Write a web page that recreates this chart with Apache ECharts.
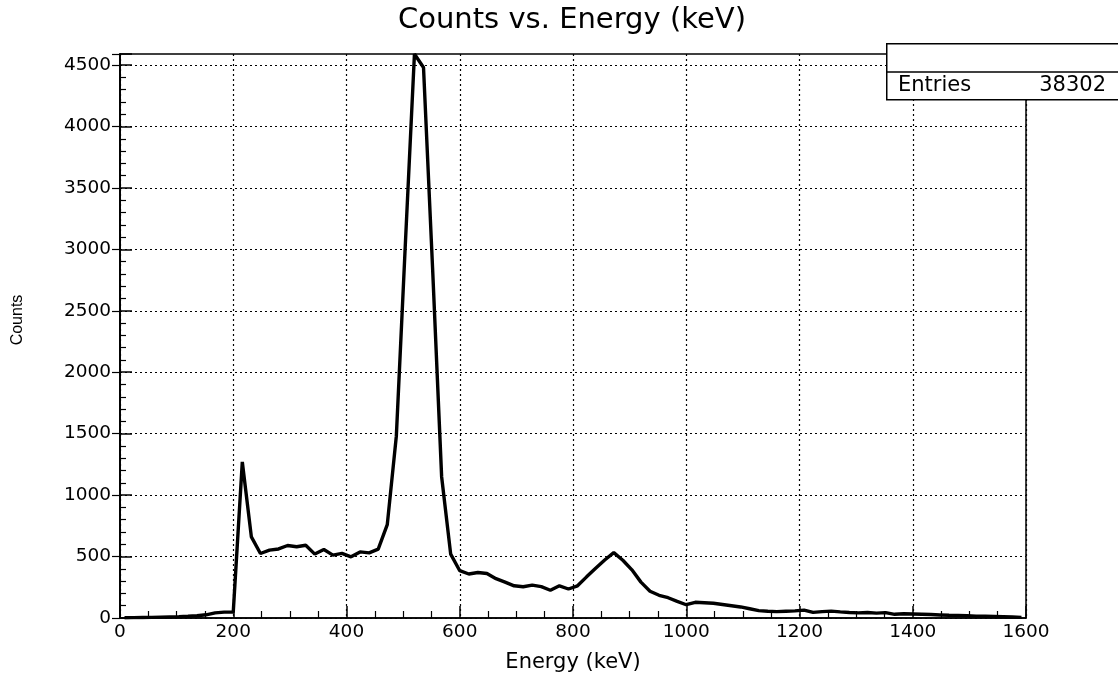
<!DOCTYPE html>
<html>
<head>
<meta charset="utf-8">
<script src="https://cdn.jsdelivr.net/npm/echarts@6/dist/echarts.min.js"></script>
<style>
html,body{margin:0;padding:0;background:#fff;}
#chart{width:1118px;height:682px;}
</style>
</head>
<body>
<div id="chart"></div>
<script>
const energies = [8,24,40,56,72,88,104,120,136,152,168,184,200,216,232,248,264,280,296,312,328,344,360,376,392,408,424,440,456,472,488,504,520,536,552,568,584,600,616,632,648,664,680,696,712,728,744,760,776,792,808,824,840,856,872,888,904,920,936,952,968,984,1000,1016,1032,1048,1064,1080,1096,1112,1128,1144,1160,1176,1192,1208,1224,1240,1256,1272,1288,1304,1320,1336,1352,1368,1384,1400,1416,1432,1448,1464,1480,1496,1512,1528,1544,1560,1576,1592];
const counts = [2,3,4,5,7,9,11,14,18,26,42,48,48,1270,660,525,552,562,590,580,592,520,558,512,526,498,538,530,560,760,1480,3050,4590,4480,2850,1150,520,385,358,370,362,320,292,262,254,268,255,226,262,236,262,335,405,472,532,470,392,292,218,185,165,135,108,128,124,120,110,100,90,75,60,55,52,55,58,64,46,52,56,50,45,42,45,40,44,30,34,32,30,28,25,22,20,18,15,14,12,10,8,5];
const xTicks = [0,200,400,600,800,1000,1200,1400,1600];
const yTicks = [0,500,1000,1500,2000,2500,3000,3500,4000,4500];
const entries = "38302";

const chart = echarts.init(document.getElementById('chart'));
const wide = 'DejaVu Sans, Verdana, sans-serif';
const narrow = 'Liberation Sans, Arial, Helvetica, sans-serif';
const data = energies.map((e,i)=>[e,counts[i]]);
const L=120, R=1026, T=54, B=618;
chart.setOption({
  animation:false,
  backgroundColor:'#fff',
  title:{text:'Counts vs. Energy (keV)', left:393, top:1,
    textStyle:{fontFamily:wide, fontSize:29, fontWeight:'normal', color:'#000'}},
  grid:{left:L, right:1118-R, top:T, bottom:682-B, show:true, borderColor:'#000', borderWidth:1.5},
  xAxis:[{type:'value', min:0, max:1600, interval:200,
    name:'Energy (keV)', nameLocation:'middle', nameGap:34,
    nameTextStyle:{fontFamily:wide, fontSize:21, color:'#000'},
    axisLine:{show:true, onZero:false, lineStyle:{color:'#000', width:1.5}},
    axisTick:{show:true, inside:true, length:12, lineStyle:{color:'#000', width:1.5}},
    minorTick:{show:true, splitNumber:4, length:7, lineStyle:{color:'#000', width:1.2}},
    axisLabel:{fontFamily:wide, fontSize:18.5, color:'#000', margin:5, formatter:v=>xTicks.includes(v)?String(v):''},
    splitLine:{show:true, lineStyle:{color:'#000', type:[2,3], width:1.2}}
  }],
  yAxis:[{type:'value', min:0, max:4590, interval:500,
    axisLine:{show:true, onZero:false, lineStyle:{color:'#000', width:1.5}},
    axisTick:{show:true, inside:true, length:12, lineStyle:{color:'#000', width:1.5}},
    minorTick:{show:true, splitNumber:5, length:6, lineStyle:{color:'#000', width:1.2}},
    axisLabel:{fontFamily:wide, fontSize:18.5, color:'#000', margin:9, showMaxLabel:false,
      formatter:v=>yTicks.includes(v)?String(v):''},
    splitLine:{show:true, showMaxLine:false, lineStyle:{color:'#000', type:[2,3], width:1.2}}
  },{type:'value', min:0, max:4590, interval:500, position:'right',
    axisLine:{show:true, lineStyle:{color:'#000', width:1.5}},
    axisTick:{show:true, inside:true, length:8, lineStyle:{color:'#000', width:1.2}},
    minorTick:{show:false},
    axisLabel:{show:false}, splitLine:{show:false}
  }],
  series:[{type:'line', data:data, showSymbol:false, symbol:'none', clip:true,
    lineStyle:{color:'#000', width:3.4}, itemStyle:{color:'#000'}}],
  graphic:[
    {type:'text', x:18, y:320, rotation:Math.PI/2, z:50,
      style:{text:'Counts', fontFamily:narrow, fontSize:16, fill:'#000', textAlign:'center', textVerticalAlign:'middle'}},
    {type:'rect', left:886, top:43, z:100, shape:{width:240, height:56},
      style:{fill:'#fff', stroke:'#000', lineWidth:1.5}},
    {type:'line', z:101, shape:{x1:886, y1:72, x2:1118, y2:72}, style:{stroke:'#000', lineWidth:1.5}},
    {type:'text', x:898, y:86, z:102, style:{text:'Entries', fontFamily:wide, fontSize:21, fill:'#000', textVerticalAlign:'middle'}},
    {type:'text', x:1106, y:86, z:102, style:{text:entries, fontFamily:wide, fontSize:21, fill:'#000', textAlign:'right', textVerticalAlign:'middle'}}
  ]
});
</script>
</body>
</html>
